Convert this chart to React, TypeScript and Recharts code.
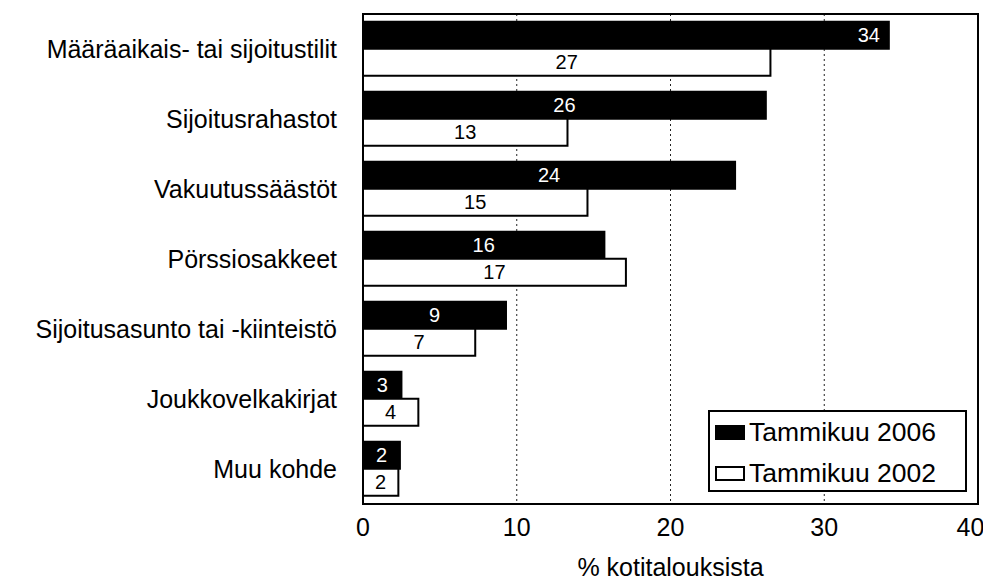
import {
  BarChart,
  Bar,
  XAxis,
  YAxis,
  CartesianGrid,
  LabelList,
  Legend,
  ReferenceArea,
} from "recharts";

const FONT = "'Liberation Sans', Arial, Helvetica, sans-serif";

const categories = [
  "Määräaikais- tai sijoitustilit",
  "Sijoitusrahastot",
  "Vakuutussäästöt",
  "Pörssiosakkeet",
  "Sijoitusasunto tai -kiinteistö",
  "Joukkovelkakirjat",
  "Muu kohde",
];
// bar lengths
const share2006 = [34.2, 26.2, 24.2, 15.7, 9.3, 2.5, 2.4];
const share2002 = [26.5, 13.3, 14.6, 17.1, 7.3, 3.6, 2.3];
// the rounded figures printed in the bars
const shown2006 = [34, 26, 24, 16, 9, 3, 2];
const shown2002 = [27, 13, 15, 17, 7, 4, 2];
const xTicks = [0, 10, 20, 30, 40];

const data = categories.map((name, i) => ({
  name,
  y2006: share2006[i],
  y2002: share2002[i],
  l2006: shown2006[i],
  l2002: shown2002[i],
}));

const makeLabel =
  (color: string) =>
  ({ x, y, width, height, value }: any) => {
    // the longest bar has its figure pushed to the end
    const nearEnd = value > 30;
    const cx = nearEnd ? x + width - 20 : x + width / 2;
    return (
      <text
        x={cx}
        y={y + height / 2}
        textAnchor="middle"
        dominantBaseline="central"
        fill={color}
        fontSize={20}
        fontFamily={FONT}
      >
        {value}
      </text>
    );
  };

function LegendBox() {
  const rows = [
    { label: "Tammikuu 2006", fill: "#000" },
    { label: "Tammikuu 2002", fill: "#fff" },
  ];
  return (
    <div
      style={{
        width: 255,
        height: 78,
        border: "2px solid #000",
        background: "#fff",
        boxSizing: "content-box",
        fontFamily: FONT,
        fontSize: 26.5,
        color: "#000",
      }}
    >
      {rows.map((r) => (
        <div
          key={r.label}
          style={{ display: "flex", alignItems: "center", height: 41, paddingLeft: 5 }}
        >
          <span
            style={{
              display: "inline-block",
              width: 26,
              height: 11,
              border: "2px solid #000",
              background: r.fill,
              marginRight: 4,
            }}
          />
          {r.label}
        </div>
      ))}
    </div>
  );
}

export default function App() {
  return (
    <div style={{ width: 975, height: 572, background: "#fff" }}>
      <BarChart
        width={975}
        height={572}
        data={data}
        layout="vertical"
        margin={{ top: 6, right: 5, bottom: 4, left: 0 }}
        barCategoryGap="11%"
        barGap={0}
      >
        <CartesianGrid
          horizontal={false}
          stroke="#222"
          strokeDasharray="2 3"
        />
        <XAxis
          type="number"
          domain={[0, 40]}
          ticks={xTicks}
          axisLine={false}
          tickLine={false}
          tickMargin={8}
          height={72}
          tick={{ fontSize: 25, fill: "#000", fontFamily: FONT }}
          label={{
            value: "% kotitalouksista",
            position: "insideBottom",
            offset: 0,
            fontSize: 25,
            fill: "#000",
            fontFamily: FONT,
          }}
        />
        <YAxis
          type="category"
          dataKey="name"
          width={355}
          axisLine={false}
          tickLine={false}
          tickSize={0}
          tickMargin={26}
          interval={0}
          tick={{ fontSize: 25, fill: "#000", fontFamily: FONT }}
        />
        <Bar
          dataKey="y2006"
          name="Tammikuu 2006"
          fill="#000"
          stroke="#000"
          strokeWidth={2}
          isAnimationActive={false}
        >
          <LabelList dataKey="l2006" content={makeLabel("#fff")} />
        </Bar>
        <Bar
          dataKey="y2002"
          name="Tammikuu 2002"
          fill="#fff"
          stroke="#000"
          strokeWidth={2}
          isAnimationActive={false}
        >
          <LabelList dataKey="l2002" content={makeLabel("#000")} />
        </Bar>
        <ReferenceArea x1={0} x2={40} fill="none" stroke="#000" strokeWidth={2} />
        <Legend
          layout="vertical"
          align="center"
          verticalAlign="middle"
          content={<LegendBox />}
          wrapperStyle={{ left: 700, top: 402, width: 259, height: 82 }}
        />
      </BarChart>
    </div>
  );
}
